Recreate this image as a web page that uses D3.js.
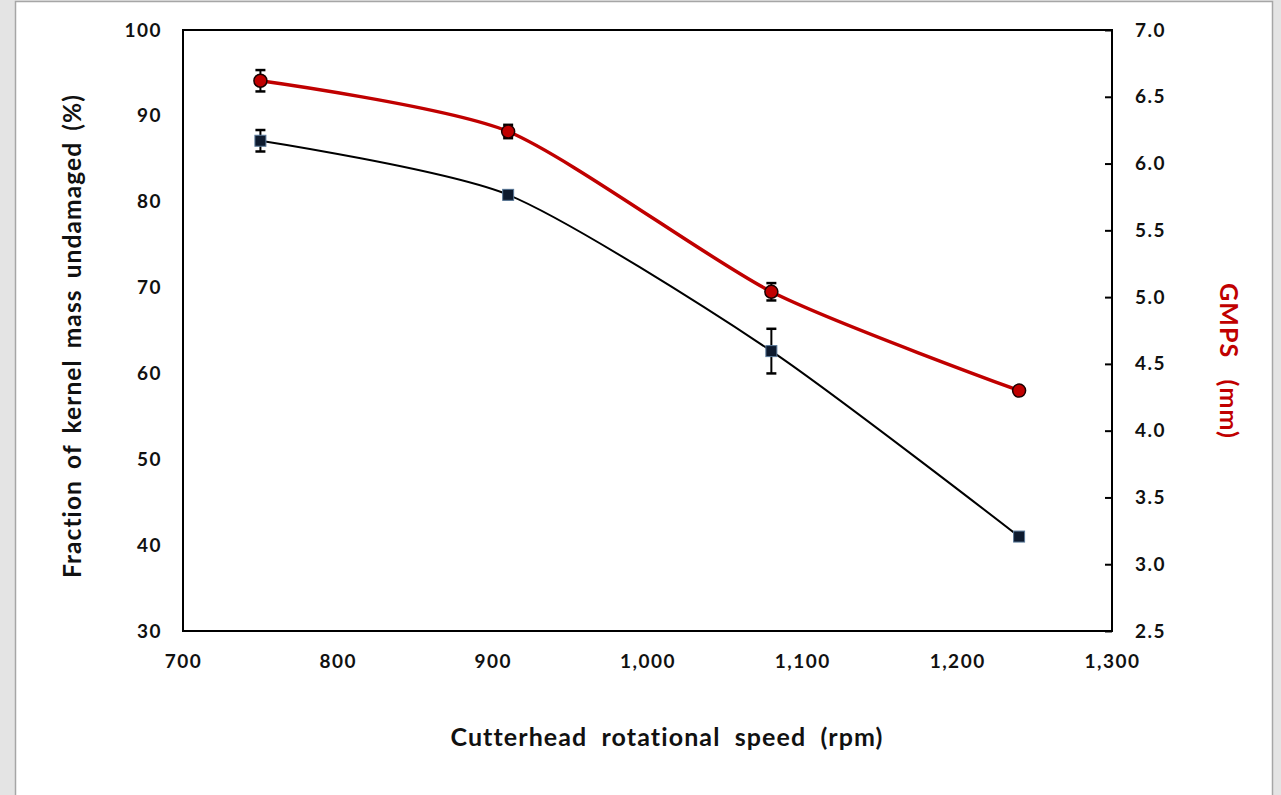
<!DOCTYPE html>
<html>
<head>
<meta charset="utf-8">
<script src="https://cdn.jsdelivr.net/npm/d3@7"></script>
<style>
  html, body { margin: 0; padding: 0; background: #e4e4e4; }
  svg { display: block; }
  text { font-family: Lato, "Open Sans", sans-serif; font-weight: bold; }
</style>
</head>
<body>
<svg id="chart" width="1281" height="795"></svg>
<script>
// Data
const speeds = [750, 910, 1080, 1240];
const kernelUndamaged = [87.1, 80.8, 62.6, 41.0];
const kernelErr = [1.25, 0.5, 2.6, 0.3];
const gmps = [6.62, 6.24, 5.04, 4.30];
const gmpsErr = [0.08, 0.05, 0.065, 0.02];

const xTicks = [700, 800, 900, 1000, 1100, 1200, 1300];
const yLeftTicks = [30, 40, 50, 60, 70, 80, 90, 100];
const yRightTicks = [2.5, 3.0, 3.5, 4.0, 4.5, 5.0, 5.5, 6.0, 6.5, 7.0];

const svg = d3.select('#chart');

// page frame
svg.append('rect')
  .attr('x', 15.5).attr('y', 1.5)
  .attr('width', 1257).attr('height', 800)
  .attr('fill', '#fff')
  .attr('stroke', '#a6a6a6')
  .attr('stroke-width', 1.5);

const plot = { left: 183, right: 1112, top: 30, bottom: 631 };

const x = d3.scaleLinear().domain([700, 1300]).range([plot.left, plot.right]);
const yL = d3.scaleLinear().domain([30, 100]).range([plot.bottom, plot.top]);
const yR = d3.scaleLinear().domain([2.5, 7.0]).range([plot.bottom, plot.top]);

const fmtX = d3.format(',');

// axes: labels only, the right axis gets short inner ticks
const xAxis = svg.append('g')
  .attr('transform', `translate(0, ${plot.bottom})`)
  .call(d3.axisBottom(x).tickValues(xTicks).tickFormat(fmtX).tickSize(0).tickPadding(24));

const leftAxis = svg.append('g')
  .attr('transform', `translate(${plot.left}, 0)`)
  .call(d3.axisLeft(yL).tickValues(yLeftTicks).tickSize(0).tickPadding(21));

const rightAxis = svg.append('g')
  .attr('transform', `translate(${plot.right}, 0)`)
  .call(d3.axisRight(yR).tickValues(yRightTicks).tickFormat(d3.format('.1f')).tickSize(0).tickPadding(23));

rightAxis.selectAll('.tick').append('line')
  .attr('x1', -7).attr('x2', 0)
  .attr('stroke', '#000').attr('stroke-width', 2);

[xAxis, leftAxis, rightAxis].forEach(a => {
  a.select('.domain').remove();
  a.selectAll('text')
    .attr('font-size', 19)
    .attr('letter-spacing', 1.5)
    .attr('fill', '#111');
});

// plot box
svg.append('rect')
  .attr('x', plot.left).attr('y', plot.top)
  .attr('width', plot.right - plot.left).attr('height', plot.bottom - plot.top)
  .attr('fill', 'none')
  .attr('stroke', '#000')
  .attr('stroke-width', 2);

// axis titles
svg.append('text')
  .attr('x', 667)
  .attr('y', 746)
  .attr('text-anchor', 'middle')
  .attr('font-size', 25)
  .attr('letter-spacing', 1.1)
  .attr('word-spacing', 7)
  .attr('fill', '#111')
  .text('Cutterhead rotational speed (rpm)');

svg.append('text')
  .attr('transform', 'translate(81, 336) rotate(-90)')
  .attr('text-anchor', 'middle')
  .attr('font-size', 24.5)
  .attr('letter-spacing', 1.1)
  .attr('word-spacing', 4)
  .attr('fill', '#111')
  .text('Fraction of kernel mass undamaged (%)');

svg.append('text')
  .attr('transform', 'translate(1220, 361) rotate(90)')
  .attr('text-anchor', 'middle')
  .attr('font-size', 25)
  .attr('letter-spacing', 1.1)
  .attr('word-spacing', 14)
  .attr('fill', '#c00000')
  .text('GMPS (mm)');

const curve = d3.curveCardinal.tension(0.3);

// kernel series (left axis)
const kData = speeds.map((s, i) => ({ s, v: kernelUndamaged[i], e: kernelErr[i] }));
svg.append('path')
  .datum(kData)
  .attr('fill', 'none')
  .attr('stroke', '#000')
  .attr('stroke-width', 2)
  .attr('d', d3.line().x(d => x(d.s)).y(d => yL(d.v)).curve(curve));

// GMPS series (right axis)
const gData = speeds.map((s, i) => ({ s, v: gmps[i], e: gmpsErr[i] }));
svg.append('path')
  .datum(gData)
  .attr('fill', 'none')
  .attr('stroke', '#c00000')
  .attr('stroke-width', 3.5)
  .attr('d', d3.line().x(d => x(d.s)).y(d => yR(d.v)).curve(curve));

function errorBars(data, yScale) {
  const g = svg.append('g');
  data.forEach(d => {
    const x0 = x(d.s);
    const y1 = yScale(d.v + d.e);
    const y2 = yScale(d.v - d.e);
    g.append('line').attr('x1', x0).attr('x2', x0).attr('y1', y1).attr('y2', y2)
      .attr('stroke', '#000').attr('stroke-width', 2);
    [y1, y2].forEach(yy => {
      g.append('line').attr('x1', x0 - 5).attr('x2', x0 + 5).attr('y1', yy).attr('y2', yy)
        .attr('stroke', '#000').attr('stroke-width', 2.5);
    });
  });
}

errorBars(kData, yL);
errorBars(gData, yR);

// markers
svg.append('g').selectAll('rect')
  .data(kData)
  .enter()
  .append('rect')
  .attr('x', d => x(d.s) - 5.5)
  .attr('y', d => yL(d.v) - 5.5)
  .attr('width', 11)
  .attr('height', 11)
  .attr('fill', '#0d1a2e')
  .attr('stroke', '#5b7a9a')
  .attr('stroke-width', 1);

svg.append('g').selectAll('circle')
  .data(gData)
  .enter()
  .append('circle')
  .attr('cx', d => x(d.s))
  .attr('cy', d => yR(d.v))
  .attr('r', 6.5)
  .attr('fill', '#c00000')
  .attr('stroke', '#1a0000')
  .attr('stroke-width', 1.5);
</script>
</body>
</html>
